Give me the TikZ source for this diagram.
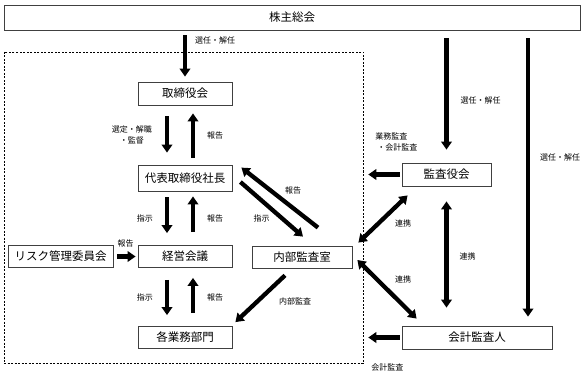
\documentclass[tikz,border=0pt]{standalone}
\usepackage{fontspec}
\newfontfamily\jpfont{Noto Sans CJK JP}
\usepackage{tikz}
\usetikzlibrary{arrows.meta, positioning, calc}

\begin{document}
\begin{tikzpicture}[x=1pt, y=-1pt, >={Triangle[length=8pt, width=10.5pt]},
  box/.style={draw=black!75, line width=0.8pt, inner sep=0pt,
    font=\jpfont\fontsize{11.5}{13}\selectfont},
  fat/.style={line width=4.3pt},
  lbl/.style={font=\jpfont\fontsize{8}{11.5}\selectfont, inner sep=2pt}]
  \useasboundingbox (0,0) rectangle (588,374);

  % shareholders and the company frame
  \node[box, minimum width=576, minimum height=25] (kabunushi) at (292,17.5) {株主総会};
  \node[draw, line width=0.6pt, dash pattern=on 2pt off 1.5pt,
    minimum width=359, minimum height=311, inner sep=0pt] (group) at (183.5,207.5) {};

  % inside the frame
  \node[box, minimum width=94, minimum height=23] (torishimari) at (185,93.5) {取締役会};
  \node[box, minimum width=94, minimum height=26] (daihyo) at (185,178) {代表取締役社長};
  \node[box, minimum width=94, minimum height=22] (keiei) at (185,256.5) {経営会議};
  \node[box, minimum width=94, minimum height=22] (kakugyomu) at (185,337.5) {各業務部門};
  \node[box, minimum width=105, minimum height=22] (risk) at (60.5,256.5) {リスク管理委員会};
  \node[box, minimum width=100, minimum height=22] (naibu) at (302,257) {内部監査室};

  % auditors
  \node[box, minimum width=89, minimum height=23] (kansayaku) at (446.5,174.5) {監査役会};
  \node[box, minimum width=150, minimum height=23] (kaikei) at (477,337.5) {会計監査人};
  \coordinate (kaikeiTop) at ([xshift=51pt]kaikei.north);

  % 株主総会 -> 取締役会
  \draw[->, fat, shorten <=5pt, shorten >=5pt] (kabunushi.south -| torishimari.north) -- (torishimari.north)
    node[lbl, pos=0.19, right=6pt] {選任・解任};

  % 取締役会 <-> 代表取締役社長
  \draw[->, fat, shorten <=11pt, shorten >=12pt] ([xshift=-18pt]torishimari.south) -- ([xshift=-18pt]daihyo.north)
    node[lbl, midway, left=11pt, align=center] {選定・解職\\・監督};
  \draw[->, fat, shorten <=7pt, shorten >=8pt] ([xshift=8pt]daihyo.north) -- ([xshift=8pt]torishimari.south)
    node[lbl, midway, right=10pt] {報告};

  % 代表取締役社長 <-> 経営会議
  \draw[->, fat, shorten <=6pt, shorten >=12pt] ([xshift=-18pt]daihyo.south) -- ([xshift=-18pt]keiei.north)
    node[lbl, midway, left=10pt] {指示};
  \draw[->, fat, shorten <=13pt, shorten >=5pt] ([xshift=8pt]keiei.north) -- ([xshift=8pt]daihyo.south)
    node[lbl, midway, right=10pt] {報告};

  % 経営会議 <-> 各業務部門
  \draw[->, fat, shorten <=12pt, shorten >=11pt] ([xshift=-18pt]keiei.south) -- ([xshift=-18pt]kakugyomu.north)
    node[lbl, midway, left=10pt] {指示};
  \draw[->, fat, shorten <=13pt, shorten >=10pt] ([xshift=8pt]kakugyomu.north) -- ([xshift=8pt]keiei.south)
    node[lbl, midway, right=10pt] {報告};

  % リスク管理委員会 -> 経営会議
  \draw[->, fat, shorten <=4pt, shorten >=2pt] (risk.east) -- (keiei.west)
    node[lbl, midway, above=5pt] {報告};

  % 代表取締役社長 <-> 内部監査室
  \draw[->, fat] ([xshift=16pt, yshift=18pt]naibu.north) -- ([xshift=9pt, yshift=-3pt]daihyo.north east)
    node[lbl, midway, xshift=13.5pt, yshift=7pt] {報告};
  \draw[->, fat] ([xshift=8pt, yshift=-4pt]daihyo.east) -- ([xshift=1pt, yshift=9pt]naibu.north)
    node[lbl, midway, xshift=-10pt, yshift=-9.5pt] {指示};

  % 内部監査室 -> 各業務部門
  \draw[->, fat] ([xshift=-17pt, yshift=-7pt]naibu.south) -- ([xshift=3pt, yshift=4pt]kakugyomu.north east)
    node[lbl, midway, xshift=35pt, yshift=-3pt] {内部監査};

  % auditors -> company frame
  \draw[->, fat, shorten <=2pt, shorten >=5pt] (kansayaku.west) -- (kansayaku.west -| group.east)
    node[lbl, pos=1, anchor=south west, xshift=8pt, yshift=19pt, align=left] {業務監査\\\hspace{2pt}・会計監査};
  \draw[->, fat, shorten <=2pt, shorten >=5pt] (kaikei.west) -- (kaikei.west -| group.east)
    node[lbl, pos=1, anchor=north west, xshift=4pt, yshift=-22pt] {会計監査};

  % 連携
  \draw[<->, fat] ([xshift=6pt, yshift=-9pt]kansayaku.south west) -- ([xshift=6pt, yshift=3pt]naibu.north east)
    node[lbl, midway, xshift=20pt, yshift=-4pt] {連携};
  \draw[<->, fat] ([xshift=5pt, yshift=-3pt]naibu.east) -- ([xshift=15pt, yshift=7pt]kaikei.north west)
    node[lbl, midway, xshift=16pt, yshift=9.5pt] {連携};
  \draw[<->, fat, shorten <=15pt, shorten >=18pt] (kansayaku.south) -- (kansayaku.south |- kaikei.north)
    node[lbl, midway, right=9pt] {連携};

  % 株主総会 -> auditors
  \draw[->, fat, shorten <=8pt, shorten >=13pt] (kabunushi.south -| kansayaku.north) -- (kansayaku.north)
    node[lbl, pos=0.53, right=10pt] {選任・解任};
  \draw[->, fat, shorten <=8pt, shorten >=9pt] (kabunushi.south -| kaikeiTop) -- (kaikeiTop)
    node[lbl, pos=0.43, right=8pt] {選任・解任};
\end{tikzpicture}
\end{document}
